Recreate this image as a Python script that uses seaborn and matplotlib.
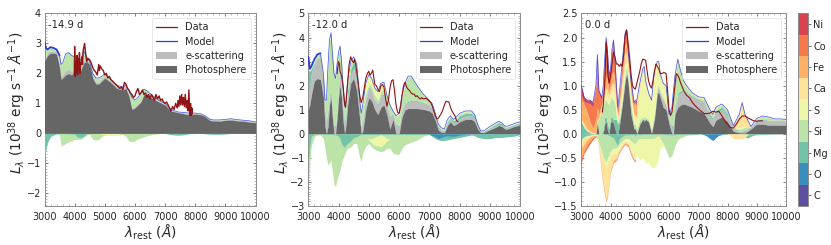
import matplotlib
matplotlib.use("Agg")
import matplotlib.pyplot as plt
import seaborn as sns
from matplotlib.colors import ListedColormap, BoundaryNorm
from matplotlib.cm import ScalarMappable
from matplotlib.lines import Line2D
from matplotlib.patches import Patch
from matplotlib.ticker import MultipleLocator

sns.set_style("white")
plt.rcParams['font.family'] = ['DejaVu Sans']
plt.rcParams['mathtext.fontset'] = 'dejavusans'

elements = ["C", "O", "Mg", "Si", "S", "Ca", "Fe", "Co", "Ni"]
pal = ["#5e4fa2", "#3b8dbd", "#72c4a8", "#bce3a8", "#edf7a7", "#fee39a", "#fdb066", "#f5794a", "#d8434f"]
C_C, C_O, C_MG, C_SI, C_S, C_CA, C_FE, C_CO, C_NI = pal
GREY_E, GREY_P = "#bdbdbd", "#666666"

# ---------- panel 1 (-14.9 d) ----------
w1 = [3000,3050,3100,3200,3300,3400,3500,3550,3600,3700,3800,3900,4000,4100,4200,4300,4400,4500,4600,4700,4800,4900,5000,5200,5400,5600,5700,5800,5900,6000,6100,6200,6300,6400,6600,6800,7000,7200,7400,7600,7800,8000,8200,8300,8400,8500,8600,8800,9000,9200,9400,9600,9800,10000]
phot1 = [2.4,2.5,2.6,2.68,2.68,2.65,2.2,1.8,1.85,1.95,2.0,1.95,2.1,2.2,2.1,2.35,2.4,2.3,1.85,1.65,1.65,1.75,1.85,1.7,1.5,1.45,1.5,1.25,.8,.85,.95,1.05,1.3,1.3,1.15,1.05,.95,.75,.7,.66,.62,.65,.62,.58,.5,.43,.42,.41,.44,.45,.42,.41,.38,.36]
esc1 = [2.45,2.55,2.7,2.75,2.75,2.72,2.3,1.9,1.95,2.1,2.15,2.05,2.2,2.28,2.2,2.45,2.45,2.35,1.9,1.72,1.72,1.82,1.92,1.75,1.55,1.5,1.55,1.3,.85,.9,1.0,1.1,1.33,1.33,1.18,1.07,.97,.77,.72,.69,.66,.67,.64,.59,.52,.45,.44,.43,.46,.47,.45,.43,.4,.37]
model1 = [3.05,2.85,2.8,2.88,2.85,2.8,2.6,2.3,2.35,2.65,2.7,2.6,2.55,2.5,2.45,2.75,2.55,2.4,2.0,1.85,1.85,1.9,2.0,1.8,1.6,1.55,1.6,1.45,1.2,1.12,1.2,1.35,1.48,1.42,1.25,1.1,1.0,.8,.72,.7,.68,.68,.65,.6,.54,.47,.45,.45,.47,.49,.46,.44,.42,.38]
w1n = [3000,3050,3100,3200,3300,3400,3500,3550,3600,3700,3800,3900,4000,4100,4200,4300,4400,4500,4600,4700,4800,4900,5000,5200,5400,5600,5700,5800,5900,6000,6100,6200,6400,6600,6800]
si1n = [-.85,-.5,-.3,-.1,-.05,-.01,-.05,-.4,-.4,-.33,-.28,-.25,-.2,-.2,-.2,-.12,-.05,-.03,-.2,-.22,-.2,-.1,-.05,-.05,-.05,-.03,-.1,-.25,-.28,-.25,-.18,-.15,-.08,-.03,-.01]
w1m = [3000,3050,3100,3200,3300,3400,3500,4000,4100,4200,4300,4400]
mg1n = [-.85,-.5,-.3,-.1,-.05,-.01,0,-.02,-.12,-.14,-.1,-.01]
w1t = [7000,7200,7400,7600,7800,8200,8400,8600,8800,9000,9200]
mg1t = [0,-.04,-.06,-.05,-.01,0,-.02,-.03,-.03,-.02,0]
w1s = [4800,4900,5000,5200,5400,5600]
s1n = [0,-.03,-.04,-.05,-.04,0]
d1x = [3990,4000,4020,4040,4060,4080,4100,4120,4140,4160,4180,4200,4220,4240,4260,4280,4300,4330,4360,4400,4450,4500,4550,4600,4650,4700,4750,4800,4820,4850,4900,4950,5000,5050,5100,5150,5200,5250,5300,5350,5400,5450,5500,5550,5600,5650,5700,5750,5800,5850,5900,5950,6000,6050,6100,6150,6200,6250,6300,6350,6400,6450,6500,6550,6600,6650,6700,6750,6800,6850,6900,6950,7000,7050,7100,7150,7200,7250,7300,7350,7400,7430,7460,7490,7520,7550,7580,7610,7640,7670,7700,7730,7760,7790,7820,7850,7870,7890,7900]
d1y = [2.0,2.9,1.9,2.4,2.0,2.6,1.95,2.5,2.15,2.7,2.0,2.35,2.3,2.55,2.3,2.75,2.85,3.0,2.7,2.4,2.5,2.45,2.35,2.2,2.1,2.05,1.95,2.3,2.1,2.25,2.15,2.1,1.95,2.0,1.85,1.9,1.8,1.75,1.7,1.65,1.6,1.55,1.5,1.55,1.45,1.7,1.65,1.5,1.45,1.35,1.3,1.2,1.25,1.4,1.5,1.3,1.35,1.45,1.3,1.35,1.2,1.3,1.15,1.3,1.2,1.1,1.3,1.15,1.25,1.1,1.15,1.05,1.0,1.05,.95,.85,.75,.9,.8,1.0,.85,1.1,.9,1.25,.95,1.3,.95,1.2,.9,1.3,.85,1.1,.75,1.45,.6,1.0,.6,.85,.65]

# ---------- panel 2 (-12.0 d) ----------
w2 = [3000,3050,3100,3200,3300,3400,3500,3550,3600,3650,3700,3750,3800,3850,3900,3950,4000,4050,4100,4150,4200,4250,4300,4400,4500,4600,4700,4750,4800,4900,5000,5100,5200,5300,5400,5500,5600,5700,5800,5900,6000,6100,6200,6300,6400,6500,6600,6800,7000,7100,7200,7300,7400,7500,7600,7700,7800,7900,8000,8200,8400,8500,8600,8700,8800,9000,9200,9300,9400,9500,9600,9800,10000]
model2 = [3.2,2.7,2.8,3.1,3.3,3.35,2.5,1.4,1.4,2.8,3.9,4.2,3.3,2.5,2.3,2.9,3.4,3.65,3.0,1.9,1.15,1.3,2.2,3.0,3.2,2.9,1.4,.85,1.2,2.1,2.45,2.3,1.9,1.75,2.1,2.15,1.6,1.2,.95,.75,.85,1.6,2.1,2.4,2.4,2.2,2.0,1.65,1.4,1.25,.85,.4,.25,.2,.6,.75,.6,.7,.85,.95,.95,.8,.4,.12,.12,.3,.45,.52,.45,.32,.32,.42,.5]
phot2 = [1.0,1.2,1.6,2.2,2.3,2.25,1.5,.3,0,.3,1.2,1.5,.6,0,0,.6,1.5,2.0,1.5,.5,0,.4,1.2,2.1,2.3,1.8,.6,0,.1,1.0,1.5,1.35,1.0,.8,1.1,1.2,.8,.2,.6,0,0,.7,1.0,1.05,1.05,1.05,1.05,1.02,.95,.85,.55,.15,.07,.05,.35,.5,.35,.4,.5,.6,.6,.5,.2,.05,.05,.17,.27,.35,.3,.2,.2,.3,.37]
esc2 = [1.6,2.0,2.5,2.9,3.1,3.1,2.2,.9,.5,.9,1.5,1.7,1.0,.3,.2,.9,1.9,2.4,1.9,.9,.3,.7,1.5,2.5,2.7,2.2,.9,.2,.5,1.4,1.9,1.75,1.35,1.2,1.6,1.6,1.2,.7,.85,.35,.3,1.0,1.25,1.3,1.35,1.35,1.35,1.3,1.2,1.05,.7,.25,.12,.1,.43,.6,.45,.5,.62,.75,.75,.62,.27,.08,.07,.2,.32,.4,.35,.24,.24,.34,.41]
mg2 = [2.6,2.6,2.7,2.95,3.15,3.15,2.25,1.0,.6,1.0,1.6,1.8,1.1,.4,.3,1.0,2.0,2.5,2.0,1.1,.5,.9,1.8,2.7,3.0,2.5,1.1,.3,.6,1.5,1.95,1.8,1.4,1.25,1.65,1.65,1.25,.75,.87,.4,.35,1.05,1.3,1.35,1.4,1.4,1.38,1.32,1.22,1.07,.72,.3,.17,.15,.5,.67,.55,.6,.75,.85,.85,.72,.35,.1,.1,.25,.4,.47,.42,.28,.28,.38,.46]
si2 = [2.6,2.65,2.75,3.05,3.27,3.32,2.47,1.37,1.37,2.77,3.87,4.17,3.27,2.47,2.27,2.87,3.37,3.62,2.97,1.87,1.12,1.27,2.17,2.97,3.17,2.87,1.37,.82,1.17,1.7,2.05,1.95,1.6,1.4,1.8,1.85,1.57,1.17,.92,.72,.82,1.57,2.07,2.37,2.37,2.17,1.97,1.62,1.37,1.22,.82,.37,.22,.17,.56,.72,.57,.67,.82,.92,.92,.77,.37,.11,.11,.28,.43,.5,.43,.3,.3,.4,.48]
w2n = [3000,3050,3100,3200,3300,3400,3500,3550,3600,3650,3700,3750,3800,3850,3900,3950,4000,4050,4100,4150,4200,4250,4300,4400,4500,4600,4700,4750,4800,4900,5000,5100,5200,5300,5400,5500,5600,5700,5800,5900,6000,6100,6200,6300,6400,6500,6600,6800,7000,7100]
si2n = [-2.1,-1.2,-.5,-.1,-.05,-.05,-.2,-.6,-1.0,-1.3,-1.2,-1.1,-1.6,-2.1,-2.2,-1.9,-1.7,-1.5,-1.2,-1.0,-.85,-.7,-.6,-.55,-.4,-.4,-1.0,-1.15,-.8,-.5,-.4,-.55,-.65,-.7,-.75,-.7,-.6,-.6,-.8,-.85,-.85,-.6,-.45,-.4,-.35,-.3,-.25,-.1,-.03,-.02]
mg2n = [-1.2,-.5,-.1,-.02,0,0,-.02,-.03,-.03,-.03,-.03,-.03,-.03,-.03,-.05,-.05,-.1,-.2,-.4,-.5,-.55,-.45,-.4,-.3,-.15,-.12,-.05,-.03,-.03,-.03,-.03,-.03,-.03,-.03,-.03,-.03,-.03,-.03,-.03,-.03,-.03,-.03,-.03,-.03,-.03,-.03,-.03,-.03,-.03,-.03]
w2s = [4900,5000,5100,5200,5300,5400,5500,5600,5700]
s2top = [-.15,-.2,-.2,-.15,-.1,-.03,-.1,-.2,-.2]
s2bot = [-.15,-.25,-.4,-.5,-.5,-.55,-.45,-.3,-.2]
w2t = [7000,7200,7300,7400,7500,7600,7800,8000,8200,8400,8500,8600,8800,9000,9200,9400,9600,9800,10000]
mg2t = [-.03,-.2,-.25,-.28,-.28,-.25,-.2,-.15,-.1,-.05,-.08,-.15,-.2,-.2,-.15,-.15,-.12,-.1,-.03]
o2t = [-.02,-.12,-.2,-.15,-.1,-.08,-.1,-.05,-.02,-.01,-.01,-.01,-.01,-.01,-.01,-.01,-.01,-.01,-.01]
d2x = [3950,4000,4030,4050,4100,4150,4200,4230,4300,4350,4400,4450,4500,4530,4560,4600,4650,4700,4750,4800,4850,4900,4950,5000,5030,5050,5100,5130,5170,5200,5250,5300,5350,5400,5450,5500,5550,5600,5650,5700,5750,5800,5850,5900,5950,6000,6050,6100,6150,6200,6250,6300,6350,6400,6450,6500,6550,6600,6650,6700,6750,6800,6900,7000,7050,7100,7150,7200,7250,7300,7400,7450,7500,7550,7600,7650,7700,7750,7800,7850,7900,7950]
d2y = [2.5,3.0,2.9,2.6,2.4,2.0,1.3,1.1,2.1,2.9,3.2,3.05,2.95,3.1,2.9,2.6,2.1,1.6,1.3,1.5,1.9,2.3,2.5,2.6,2.45,2.45,2.55,2.65,2.3,2.05,2.0,1.85,1.75,2.0,2.05,1.95,1.5,1.15,1.4,1.9,2.2,2.25,1.8,1.2,.9,.85,1.1,1.6,2.0,2.15,1.95,1.85,1.8,1.7,1.65,1.65,1.55,1.58,1.5,1.45,1.5,1.45,1.48,1.35,1.3,1.15,.95,.75,.62,.65,.85,1.0,1.2,1.35,1.33,1.33,1.1,.95,.85,.75,.55,.5]

# ---------- panel 3 (0.0 d) ----------
w3 = [3000,3100,3200,3300,3400,3500,3550,3600,3700,3750,3800,3850,3900,3950,4000,4050,4100,4150,4200,4250,4300,4400,4500,4550,4600,4700,4800,4850,4900,5000,5100,5150,5200,5300,5400,5500,5600,5650,5700,5800,5900,6000,6100,6150,6200,6300,6400,6500,6600,6800,7000,7200,7400,7500,7600,7800,8000,8200,8400,8500,8600,8800,9000,9200,9400,9600,9800,10000]
model3 = [1.0,.75,.7,.7,.65,1.0,1.65,.9,.75,1.0,1.55,2.0,1.65,1.2,1.35,1.75,1.95,1.55,1.0,.55,.85,1.5,2.1,2.17,1.75,1.1,.65,.7,.7,1.05,1.35,1.4,1.1,.85,.7,1.3,1.5,1.5,1.25,1.05,1.0,.4,.55,.9,1.2,1.55,1.3,1.1,1.0,.85,.77,.75,.5,.4,.55,.62,.5,.17,.4,.65,.4,.15,.32,.37,.35,.31,.31,.3]
phot3 = [0,0,0,0,0,0,.22,0,0,0,.2,.25,.05,0,.25,.25,.22,.1,0,0,.15,.6,1.1,1.25,1.05,.4,.1,.1,0,.2,.3,.25,.3,.25,0,.3,.85,.85,.75,.55,.5,.2,0,0,.4,.55,.6,.62,.6,.55,.48,.42,.22,.15,.28,.35,.25,.05,.02,.02,.02,.1,.2,.2,.18,.18,.18,.18]
esc3 = [0,0,0,0,0,0,.22,0,0,0,.2,.25,.05,0,.25,.25,.22,.1,0,0,.15,.6,1.1,1.25,1.05,.4,.1,.1,0,.2,.3,.25,.3,.25,0,.35,.95,.95,.85,.7,.6,.3,.1,.15,.5,.8,.85,.9,.85,.75,.7,.65,.35,.3,.42,.5,.38,.1,.05,.05,.05,.15,.28,.29,.27,.27,.27,.27]
mg3 = [.25,.12,.05,.02,0,0,.22,0,.03,.1,.35,.35,.2,.1,.35,.35,.3,.3,.3,.2,.25,.6,1.1,1.25,1.05,.4,.1,.1,.02,.2,.3,.3,.3,.25,.02,.35,.95,.95,.85,.7,.6,.3,.15,.2,.55,.85,.9,.92,.87,.78,.72,.67,.4,.33,.47,.56,.42,.12,.06,.06,.08,.15,.3,.31,.28,.28,.28,.27]
si3 = [.25,.15,.08,.03,.01,.01,.28,.3,.55,.6,.7,.7,.65,.6,.75,.75,.7,.65,.35,.25,.35,.75,1.3,1.4,1.2,.6,.2,.2,.1,.3,.35,.35,.35,.3,.1,.45,1.0,1.0,.9,.75,.65,.38,.5,.85,1.15,1.5,1.25,1.05,.95,.82,.75,.72,.47,.37,.52,.6,.47,.14,.1,.12,.14,.15,.31,.36,.33,.3,.3,.29]
s3 = [.25,.15,.08,.03,.01,.01,.28,.3,.6,.65,.8,.8,.75,.7,.85,.9,.85,.8,.45,.3,.45,.9,1.45,1.5,1.3,.7,.35,.35,.3,.9,1.25,1.3,1.05,.8,.65,1.25,1.45,1.45,1.2,1.0,.95,.38,.52,.87,1.17,1.52,1.26,1.06,.96,.83,.76,.73,.48,.38,.53,.61,.48,.15,.12,.14,.15,.15,.31,.36,.33,.3,.3,.29]
ca3 = [.3,.2,.1,.05,.02,.03,.3,.32,.62,.7,.9,.95,.9,.8,.95,1.05,1.05,.95,.55,.35,.55,1.1,1.65,1.7,1.45,.8,.4,.4,.32]
fe3 = [.72,.6,.45,.25,.12,.3,.55,.4,.65,.78,1.05,1.2,1.1,.9,1.05,1.25,1.3,1.1,.65,.4,.65,1.25,1.85,1.9,1.55,1.0,.6,.62,.55]
co3 = [.8,.66,.65,.62,.55,.95,1.55,.82,.7,.95,1.45,1.9,1.55,1.12,1.27,1.68,1.88,1.47,.92,.5,.78,1.42,2.03,2.1,1.68,1.05,.62,.66,.65]
w3n = [3000,3100,3200,3300,3400,3500,3550,3600,3700,3750,3800,3850,3900,3950,4000,4100,4200,4250,4300,4400,4500,4600,4700,4800,4850,4900,5000,5100,5200,5300,5400,5500,5600,5650,5700,5800,5900,6000,6100,6200,6300,6400,6600,6800,7000]
mg3n = [-.1,-.05,-.03,-.02,-.01,0,0,0,0,-.01,-.01,-.01,-.02,-.03,-.05,-.08,-.2,-.25,-.1,-.05,-.02,-.02,-.01,-.02,-.03,-.01,-.02,-.01,-.01,-.01,-.01,-.01,0,0,0,-.01,-.02,-.02,-.02,-.02,-.01,-.01,-.01,-.01,-.01]
si3n = [-.1,-.08,-.05,-.03,-.02,-.01,-.05,-.2,-.4,-.5,-.55,-.6,-.5,-.45,-.35,-.3,-.3,-.25,-.2,-.15,-.1,-.1,-.15,-.2,-.2,-.15,-.1,-.1,-.1,-.1,-.1,-.1,-.05,-.05,-.1,-.2,-.35,-.5,-.45,-.25,-.12,-.08,-.03,-.02,-.01]
s3n = [-.11,-.09,-.06,-.04,-.03,-.02,-.06,-.22,-.45,-.55,-.62,-.68,-.6,-.55,-.45,-.4,-.42,-.35,-.3,-.2,-.15,-.18,-.35,-.5,-.5,-.45,-.55,-.5,-.6,-.6,-.7,-.7,-.6,-.45,-.3,-.25,-.36,-.5,-.45,-.25,-.12,-.08,-.03,-.02,-.01]
ca3n = [-.3,-.2,-.12,-.06,-.04,-.03,-.08,-.28,-.8,-1.0,-1.2,-1.36,-1.25,-1.0,-.75,-.55,-.5,-.42,-.35,-.25,-.18,-.22,-.38,-.52,-.53]
fe3n = [-.5,-.33,-.22,-.14,-.07,-.04,-.1,-.3,-.85,-1.05,-1.25,-1.4,-1.28,-1.03,-.78,-.58,-.53,-.45,-.38,-.27,-.2,-.25,-.42,-.55,-.55]
co3n = [-.6,-.4,-.3,-.2,-.12,-.06,-.11,-.31,-.87,-1.07,-1.27,-1.42,-1.3,-1.05,-.8,-.6,-.55,-.47,-.4,-.29,-.22,-.27,-.45,-.57,-.57]
w3o = [7100,7200,7300,7400,7500,7600,7700,7800,7900]
o3o = [0,-.02,-.05,-.1,-.14,-.08,-.03,-.01,0]
w3m = [7000,7400,7600,7800,8000,8400,8500,8600,8700,8800,8900,9000,9400,10000]
mg3m = [0,-.03,-.04,-.02,-.01,-.01,-.03,-.07,-.09,-.05,-.03,-.02,-.01,0]
w3c = [8000,8100,8200,8300,8400,8500,8600,8700]
ca3m = [-.01,-.03,-.1,-.11,-.1,-.1,-.07,-.02]
d3x = [3720,3750,3800,3850,3880,3900,3950,4000,4050,4100,4150,4200,4250,4300,4350,4400,4450,4500,4550,4600,4650,4700,4750,4800,4850,4900,5000,5050,5100,5200,5250,5300,5350,5400,5450,5500,5550,5600,5650,5700,5750,5800,5850,5900,5950,6000,6050,6100,6150,6200,6250,6300,6350,6400,6500,6600,6700,6800,6900,7000,7100,7200,7300,7400,7500,7600,7700,7800,7900,8000,8100,8200,8300,8400,8500,8600,8700,8800,8900,9000,9100,9200]
d3y = [.45,.6,1.0,1.9,1.7,1.3,1.05,1.2,1.45,1.7,1.6,1.45,1.45,1.4,1.45,1.4,1.65,2.05,2.15,1.9,1.6,1.25,1.0,.95,.93,1.05,1.3,1.45,1.55,1.53,1.3,1.1,1.0,.95,1.1,1.3,1.45,1.4,1.35,1.25,1.25,1.27,1.27,1.25,.9,.5,.38,.45,.7,1.0,1.25,1.22,1.15,1.05,.9,.8,.75,.65,.58,.52,.47,.42,.42,.43,.47,.45,.47,.38,.28,.2,.13,.12,.2,.3,.37,.37,.33,.3,.27,.26,.27,.27]

phase_labels = ["-14.9 d", "-12.0 d", "0.0 d"]
xticks = [3000, 4000, 5000, 6000, 7000, 8000, 9000, 10000]
scale_labels = [r"$L_\lambda\ (10^{38}\ \mathrm{erg\ s^{-1}}\ \AA^{-1})$",
                r"$L_\lambda\ (10^{38}\ \mathrm{erg\ s^{-1}}\ \AA^{-1})$",
                r"$L_\lambda\ (10^{39}\ \mathrm{erg\ s^{-1}}\ \AA^{-1})$"]

W, H = 831, 245
fig = plt.figure(figsize=(W/100, H/100), dpi=100)
def axpx(l, r, t=13.5, b=206):
    return fig.add_axes([l/W, 1-b/H, (r-l)/W, (b-t)/H])
ax1 = axpx(44.5, 255.5)
ax2 = axpx(308.3, 520)
ax3 = axpx(581.3, 786)
cax = axpx(798.3, 807.7)

def band(ax, x, lo, hi, c, z=2):
    ax.fill_between(x, lo, hi, color=c, lw=0, zorder=z)

# panel 1
band(ax1, w1, esc1, model1, C_SI)
band(ax1, w1, phot1, esc1, GREY_E)
band(ax1, w1, [0]*len(w1), phot1, GREY_P, 3)
band(ax1, w1n, si1n, [0]*len(w1n), C_SI)
band(ax1, w1m, mg1n, [0]*len(w1m), C_MG, 3)
band(ax1, w1t, mg1t, [0]*len(w1t), C_MG, 3)
band(ax1, w1s, s1n, [0]*len(w1s), C_S, 3)

# panel 2
z2 = [0]*len(w2)
band(ax2, w2, z2, phot2, GREY_P, 3)
band(ax2, w2, phot2, esc2, GREY_E)
band(ax2, w2, esc2, mg2, C_MG)
band(ax2, w2, mg2, si2, C_SI)
band(ax2, w2, si2, model2, C_S)
band(ax2, w2n, si2n, [0]*len(w2n), C_SI)
band(ax2, w2n, mg2n, [0]*len(w2n), C_MG, 3)
band(ax2, w2s, s2bot, s2top, C_S, 3)
band(ax2, w2t, mg2t, [0]*len(w2t), C_MG, 3)
band(ax2, w2t, o2t, [0]*len(w2t), C_O, 4)

# panel 3
band(ax3, w3, [0]*len(w3), phot3, GREY_P, 3)
band(ax3, w3, phot3, esc3, GREY_E)
band(ax3, w3, esc3, mg3, C_MG)
band(ax3, w3, mg3, si3, C_SI)
band(ax3, w3, si3, s3, C_S)
n = len(ca3)
band(ax3, w3[:n], s3[:n], ca3, C_CA)
band(ax3, w3[:n], ca3, fe3, C_FE)
band(ax3, w3[:n], fe3, co3, C_CO)
band(ax3, w3[:n], co3, model3[:n], C_NI)
band(ax3, w3[n-1:], s3[n-1:], model3[n-1:], C_CA)
m = len(ca3n)
band(ax3, w3n, si3n, [0]*len(w3n), C_SI)
band(ax3, w3n, mg3n, [0]*len(w3n), C_MG, 3)
band(ax3, w3n, s3n, si3n, C_S)
band(ax3, w3n[:m], s3n[:m], ca3n, C_CA)
band(ax3, w3n[:m], ca3n, fe3n, C_FE)
band(ax3, w3n[:m], fe3n, co3n, C_CO)
band(ax3, w3m, mg3m, [0]*len(w3m), C_MG, 3)
band(ax3, w3o, o3o, [0]*len(w3o), C_O, 4)
band(ax3, w3c, ca3m, [0]*len(w3c), C_CA, 3)

RED, BLUE = "#8f1414", "#2a3be0"
series = [(ax1, w1, model1, d1x, d1y, (-2.42, 4)),
          (ax2, w2, model2, d2x, d2y, (-3, 5)),
          (ax3, w3, model3, d3x, d3y, (-1.5, 2.5))]
thick = [7, 6, 0]
for i, (ax, wm, mm, dx, dy, yl) in enumerate(series):
    sns.lineplot(x=wm, y=mm, ax=ax, color=BLUE, lw=0.55, alpha=0.85, estimator=None, zorder=5, legend=False)
    if thick[i]:
        sns.lineplot(x=wm[:thick[i]], y=mm[:thick[i]], ax=ax, color=BLUE, lw=1.25, estimator=None, zorder=5, legend=False)
    sns.lineplot(x=dx, y=dy, ax=ax, color=RED, lw=1.0 if i == 0 else 0.8, estimator=None, zorder=6, legend=False)
    ax.set_xlim(3000, 10000)
    ax.set_ylim(*yl)
    ax.set_xticks(xticks)
    ax.set_yticks(MultipleLocator(1 if i < 2 else 0.5).tick_values(*yl))
    ax.set_ylim(*yl)
    ax.xaxis.set_minor_locator(MultipleLocator(200))
    ax.yaxis.set_minor_locator(MultipleLocator(0.1))
    ax.tick_params(which='major', direction='in', length=2.5, width=0.6, labelsize=7.0,
                   color="#666666", labelcolor="#262626", pad=2.5, top=True, right=True, bottom=True, left=True)
    ax.tick_params(axis='x', which='major', pad=4)
    ax.tick_params(which='minor', direction='in', length=1.2, width=0.4, color="#888888",
                   top=True, right=True, bottom=True, left=True)
    for s in ax.spines.values():
        s.set_color("#8c8c8c")
        s.set_linewidth(0.7)
    ax.set_xlabel(r"$\lambda_{\mathrm{rest}}\ (\AA)$", fontsize=9.8, labelpad=0.5, color="#262626")
    ax.set_ylabel(scale_labels[i], fontsize=9.8, labelpad=-1.0, color="#262626", y=0.535)
    ax.text(0.018, 0.965, phase_labels[i], transform=ax.transAxes, ha='left', va='top',
            fontsize=7.2, color="#262626", zorder=8)
    handles = [Line2D([], [], color=RED, lw=0.9), Line2D([], [], color=BLUE, lw=0.9),
               Patch(color=GREY_E, lw=0), Patch(color=GREY_P, lw=0)]
    leg = ax.legend(handles, ["Data", "Model", "e-scattering", "Photosphere"], loc='upper right',
                    fontsize=7.0, frameon=True, framealpha=0.9, edgecolor="#dddddd", borderaxespad=0.5,
                    labelspacing=0.42, handlelength=2.2, handletextpad=0.85, borderpad=0.42, fancybox=True)
    leg.get_frame().set_linewidth(0.5)
    leg.set_zorder(7)

cmap = ListedColormap(pal)
norm = BoundaryNorm(list(range(10)), 9)
cb = fig.colorbar(ScalarMappable(norm=norm, cmap=cmap), cax=cax, ticks=[i+0.5 for i in range(9)])
cb.ax.set_yticklabels(elements)
cb.ax.tick_params(labelsize=7.0, length=2.5, width=0.6, pad=1.5, color="#555555", labelcolor="#262626")
cb.ax.minorticks_off()
cb.outline.set_edgecolor("#8c8c8c")
cb.outline.set_linewidth(0.7)

fig.savefig("out.png", dpi=100)
